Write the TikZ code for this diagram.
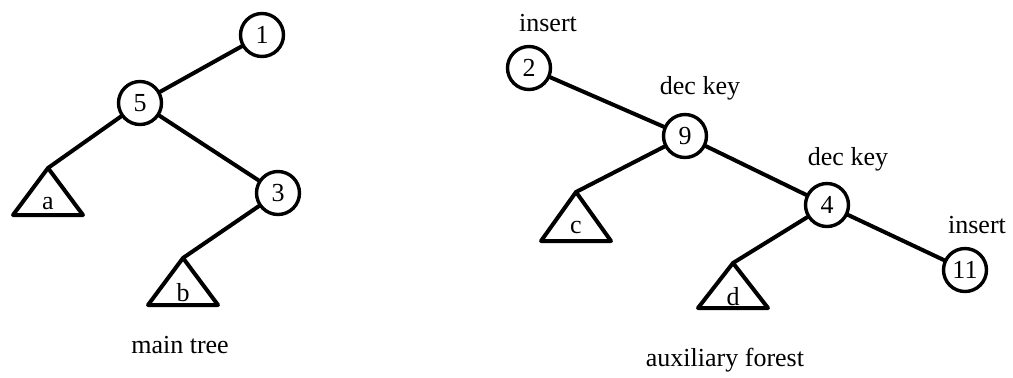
\documentclass[tikz,border=0pt]{standalone}
\usepackage{fontspec}
\setmainfont{Liberation Serif}
\usetikzlibrary{positioning}

\begin{document}
\begin{tikzpicture}[
    x=0.5pt,y=-0.5pt,
    line join=round,line cap=round,
    font=\fontsize{13}{15}\selectfont,
    key/.style={circle,draw,line width=1.7pt,minimum size=21.5pt,inner sep=0pt},
    edge/.style={line width=2pt},
    subtree/.style={line width=2pt},
    tag/.style={inner sep=0pt},
    leaf/.style={inner sep=0pt,anchor=base}
  ]
    \useasboundingbox (0,0) rectangle (1013,377);

    % main tree
    \node [key] (k1) at (262,35)  {1};
    \node [key] (k5) at (140,103) {5};
    \node [key] (k3) at (278,193) {3};
    \coordinate (ta) at (48,168);
    \coordinate (tb) at (183,258);
    \draw [subtree] (ta) -- ++(-35,47) -- ++(70,0) -- cycle;
    \draw [subtree] (tb) -- ++(-35,47) -- ++(70,0) -- cycle;
    \node [leaf] (la) at ([yshift=-20.5pt]ta) {a};
    \node [leaf] (lb) at ([yshift=-21.5pt]tb) {b};
    \draw [edge] (k1) -- (k5);
    \draw [edge] (k5) -- (ta);
    \draw [edge] (k5) -- (k3);
    \draw [edge] (k3) -- (tb);
    \node [tag] (cap1) at (180,345) {main tree};

    % auxiliary forest
    \node [key] (k2)  at (529,68)  {2};
    \node [key] (k9)  at (685,136) {9};
    \node [key] (k4)  at (827,205) {4};
    \node [key] (k11) at (965,270) {11};
    \coordinate (tc) at (576,192);
    \coordinate (td) at (733,263);
    \draw [subtree] (tc) -- ++(-35,49) -- ++(70,0) -- cycle;
    \draw [subtree] (td) -- ++(-35,45) -- ++(70,0) -- cycle;
    \node [leaf] (lc) at ([yshift=-20.5pt]tc) {c};
    \node [leaf] (ld) at ([yshift=-21pt]td) {d};
    \draw [edge] (k2) -- (k9);
    \draw [edge] (k9) -- (tc);
    \draw [edge] (k9) -- (k4);
    \draw [edge] (k4) -- (td);
    \draw [edge] (k4) -- (k11);
    \node [tag] (op2)  at (548,23)  {insert};
    \node [tag] (op9)  at (700,88)  {dec key};
    \node [tag] (op4)  at (848,159) {dec key};
    \node [tag] (op11) at (977,225) {insert};
    \node [tag] (cap2) at (725,360) {auxiliary forest};
\end{tikzpicture}
\end{document}
